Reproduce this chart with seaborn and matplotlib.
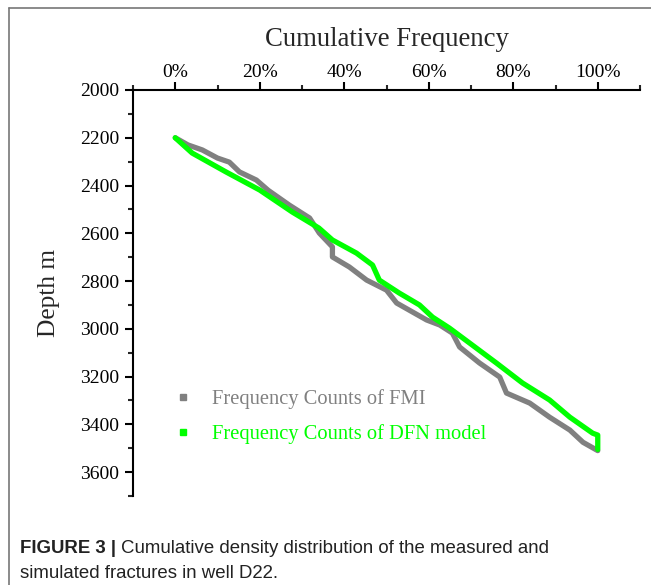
import matplotlib
matplotlib.use("Agg")
import matplotlib.pyplot as plt
import seaborn as sns
import pandas as pd
from matplotlib.lines import Line2D
from matplotlib.ticker import MultipleLocator, FuncFormatter

# ---- data ----
fmi_freq = [0, 3, 6.4, 10, 12.8, 15.2, 19.2, 22, 27, 31.8, 34.1, 37.2, 37.2, 41.2, 45.3,
            50, 52.4, 56.2, 59.5, 62.6, 65.6, 67.3, 72, 76.8, 78.4, 83.9, 88.6, 93.4, 96.5, 100]
fmi_depth = [2200, 2230, 2251, 2285, 2302, 2343, 2377, 2420, 2482, 2536, 2599, 2657, 2699, 2741, 2796,
             2838, 2892, 2930, 2963, 2984, 3018, 3076, 3143, 3202, 3269, 3311, 3370, 3424, 3475, 3510]
dfn_freq = [0, 4, 12, 20, 27.7, 34, 37.2, 42.9, 46.7, 48.3, 53, 57.8, 60.9, 64.9,
            69.7, 76, 82.2, 88.6, 93.4, 98.8, 100, 100]
dfn_depth = [2200, 2264, 2343, 2419, 2511, 2578, 2628, 2683, 2733, 2796, 2850, 2900, 2951, 2997,
             3060, 3143, 3227, 3298, 3370, 3437, 3445, 3505]
series_labels = ["Frequency Counts of FMI", "Frequency Counts of DFN model"]
x_ticks = [0, 20, 40, 60, 80, 100]
y_ticks = [2000, 2200, 2400, 2600, 2800, 3000, 3200, 3400, 3600]

GRAY = "#808080"
GREEN = "#00ff00"

sns.set_style("white")
plt.rcParams["font.family"] = ["Liberation Serif", "DejaVu Serif"]

fig = plt.figure(figsize=(6.51, 5.85), dpi=100)
W, H = 651, 585
ax = fig.add_axes([133 / W, 1 - 496 / H, (640 - 133) / W, (496 - 90) / H])

df_fmi = pd.DataFrame({"freq": fmi_freq, "depth": fmi_depth})
df_dfn = pd.DataFrame({"freq": dfn_freq, "depth": dfn_depth})
sns.lineplot(data=df_fmi, x="freq", y="depth", sort=False, estimator=None,
             color=GRAY, lw=3.8, ax=ax)
sns.lineplot(data=df_dfn, x="freq", y="depth", sort=False, estimator=None,
             color=GREEN, lw=3.8, ax=ax)

ax.set_xlim(-10, 110)
ax.set_ylim(3700, 2000)
ax.xaxis.set_ticks_position("top")
ax.xaxis.set_label_position("top")
ax.set_xticks(x_ticks)
ax.xaxis.set_minor_locator(MultipleLocator(10))
ax.xaxis.set_major_formatter(FuncFormatter(lambda v, p: f"{int(v)}%"))
ax.set_yticks(y_ticks)
ax.yaxis.set_minor_locator(MultipleLocator(100))
for s in ["right", "bottom"]:
    ax.spines[s].set_visible(False)
for s in ["top", "left"]:
    ax.spines[s].set_color("black")
    ax.spines[s].set_linewidth(1.5)
ax.tick_params(which="major", direction="out", length=6, width=1.5, labelsize=14, colors="black",
               top=True, bottom=False, left=True, right=False)
ax.tick_params(axis="x", which="major", pad=0.5)
ax.tick_params(axis="y", which="major", pad=4)
ax.tick_params(which="minor", direction="out", length=3.5, width=1.5,
               top=True, bottom=False, left=True, right=False)
ax.set_xlabel("Cumulative Frequency", fontsize=19.3, labelpad=13)
ax.set_ylabel("Depth m", fontsize=18.3, labelpad=14)

handles = [Line2D([], [], ls="none", marker="s", ms=4, color=GRAY),
           Line2D([], [], ls="none", marker="s", ms=4, color=GREEN)]
ax.legend(handles, series_labels, loc="upper left",
          bbox_to_anchor=((154 - 133) / (640 - 133), 1 - (371 - 90) / 406),
          frameon=False, fontsize=14.8, labelcolor=[GRAY, GREEN], handletextpad=0.9,
          labelspacing=0.72, handlelength=1.0)

# panel frame
fig.add_artist(Line2D([9 / W, 9 / W], [0, 1 - 8 / H], color="#777777", lw=1.2, transform=fig.transFigure))
fig.add_artist(Line2D([9 / W, 1], [1 - 8 / H, 1 - 8 / H], color="#777777", lw=1.2, transform=fig.transFigure))

# caption
cap_font = ["Liberation Sans Narrow", "Liberation Sans", "DejaVu Sans"]
cs = 13.4
t1 = fig.text(20 / W, 1 - 553 / H, "FIGURE 3 |", fontsize=cs, fontweight="bold", family=cap_font, color="#222222")
fig.canvas.draw()
bb = t1.get_window_extent()
fig.text((bb.x1 + 5) / W, 1 - 553 / H, "Cumulative density distribution of the measured and",
         fontsize=cs, family=cap_font, color="#222222")
fig.text(20 / W, 1 - 578 / H, "simulated fractures in well D22.", fontsize=cs, family=cap_font, color="#222222")

fig.savefig("out.png", dpi=100)
